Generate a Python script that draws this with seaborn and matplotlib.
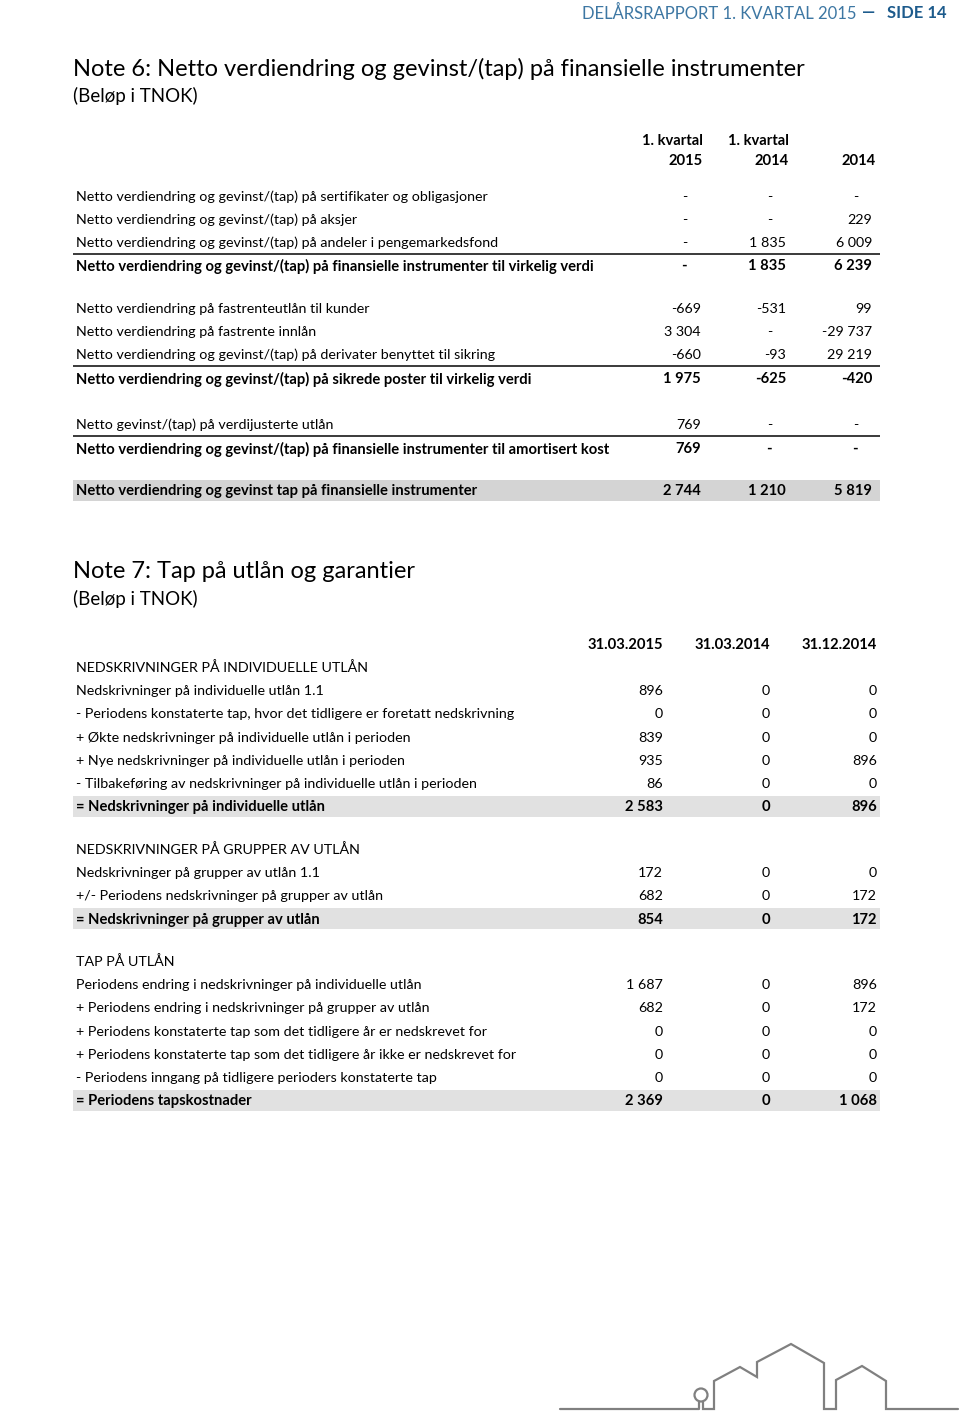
import matplotlib
matplotlib.use("Agg")
import matplotlib.pyplot as plt
import seaborn as sns
from matplotlib.patches import Rectangle, Circle

# data - note 6
n6_cols_top = ["1. kvartal", "1. kvartal", ""]
n6_cols_bottom = ["2015", "2014", "2014"]
n6_labels = [
    "Netto verdiendring og gevinst/(tap) på sertifikater og obligasjoner",
    "Netto verdiendring og gevinst/(tap) på aksjer",
    "Netto verdiendring og gevinst/(tap) på andeler i pengemarkedsfond",
    "Netto verdiendring og gevinst/(tap) på finansielle instrumenter til virkelig verdi",
    "Netto verdiendring på fastrenteutlån til kunder",
    "Netto verdiendring på fastrente innlån",
    "Netto verdiendring og gevinst/(tap) på derivater benyttet til sikring",
    "Netto verdiendring og gevinst/(tap) på sikrede poster til virkelig verdi",
    "Netto gevinst/(tap) på verdijusterte utlån",
    "Netto verdiendring og gevinst/(tap) på finansielle instrumenter til amortisert kost",
    "Netto verdiendring og gevinst tap på finansielle instrumenter",
]
n6_q1_2015 = [None, None, None, None, -669, 3304, -660, 1975, 769, 769, 2744]
n6_q1_2014 = [None, None, 1835, 1835, -531, None, -93, -625, None, None, 1210]
n6_y2014 = [None, 229, 6009, 6239, 99, -29737, 29219, -420, None, None, 5819]
n6_bold = [False, False, False, True, False, False, False, True, False, True, True]

# data - note 7
n7_cols = ["31.03.2015", "31.03.2014", "31.12.2014"]
n7_sections = [
    "NEDSKRIVNINGER PÅ INDIVIDUELLE UTLÅN",
    "NEDSKRIVNINGER PÅ GRUPPER AV UTLÅN",
    "TAP PÅ UTLÅN",
]
n7_labels = [
    ["Nedskrivninger på individuelle utlån 1.1",
     "- Periodens konstaterte tap, hvor det tidligere er foretatt nedskrivning",
     "+ Økte nedskrivninger på individuelle utlån i perioden",
     "+ Nye nedskrivninger på individuelle utlån i perioden",
     "- Tilbakeføring av nedskrivninger på individuelle utlån i perioden",
     "= Nedskrivninger på individuelle utlån"],
    ["Nedskrivninger på grupper av utlån 1.1",
     "+/- Periodens nedskrivninger på grupper av utlån",
     "= Nedskrivninger på grupper av utlån"],
    ["Periodens endring i nedskrivninger på individuelle utlån",
     "+ Periodens endring i nedskrivninger på grupper av utlån",
     "+ Periodens konstaterte tap som det tidligere år er nedskrevet for",
     "+ Periodens konstaterte tap som det tidligere år ikke er nedskrevet for",
     "- Periodens inngang på tidligere perioders konstaterte tap",
     "= Periodens tapskostnader"],
]
n7_2015 = [[896, 0, 839, 935, 86, 2583], [172, 682, 854], [1687, 682, 0, 0, 0, 2369]]
n7_2014q = [[0, 0, 0, 0, 0, 0], [0, 0, 0], [0, 0, 0, 0, 0, 0]]
n7_2014y = [[0, 0, 0, 896, 0, 896], [0, 172, 172], [896, 172, 0, 0, 0, 1068]]


def fmt(v):
    if v is None:
        return "-"
    s = f"{abs(v):,}".replace(",", " ")
    return ("-" if v < 0 else "") + s


sns.set_theme(style="white")
plt.rcParams["font.family"] = ["Lato", "DejaVu Sans"]
plt.rcParams["text.color"] = "black"

fig = plt.figure(figsize=(9.6, 14.15), dpi=100)
ax = fig.add_axes([0, 0, 1, 1])
ax.set_xlim(0, 960)
ax.set_ylim(1415, 0)
ax.axis("off")

FS = 10.3      # regular rows
FSB = 10.6     # bold rows
ROW = 23.2
LEFT = 76
DY = 1         # small baseline nudge


def size(w):
    return FSB if w == "bold" else FS


# page header
ax.text(857, 13, "DELÅRSRAPPORT 1. KVARTAL 2015", ha="right", va="center",
        fontsize=12, color="#3d77a3")
ax.text(862, 12, "—", ha="left", va="center", fontsize=12, color="#1d5b8c",
        fontweight="bold")
ax.text(947, 13, "SIDE 14", ha="right", va="center", fontsize=12, color="#1d5b8c",
        fontweight="bold")

# ---- Note 6 ----
ax.text(73, 69, "Note 6: Netto verdiendring og gevinst/(tap) på finansielle instrumenter",
        ha="left", va="center", fontsize=17)
ax.text(73, 96, "(Beløp i TNOK)", ha="left", va="center", fontsize=13.5)

c6 = [703, 789, 876]
for x, t, b in zip(c6, n6_cols_top, n6_cols_bottom):
    ax.text(x, 140 + DY, t, ha="right", va="center", fontsize=FSB, fontweight="bold")
    ax.text(x, 160 + DY, b, ha="right", va="center", fontsize=FSB, fontweight="bold")

n6_y = [196, 219, 242, 265, 308, 331, 354, 378, 424, 448, 490]
rules6 = [253.5, 365.5, 435.5]
for r in rules6:
    ax.plot([73, 880], [r, r], color="#3a3a3a", lw=1.4, solid_capstyle="butt")
ax.add_patch(Rectangle((73, 479.5), 807, 21, color="#d4d4d4", lw=0, zorder=0))

vals6 = [n6_q1_2015, n6_q1_2014, n6_y2014]
nr6 = [701, 786, 872]
for i, (lab, y, bold) in enumerate(zip(n6_labels, n6_y, n6_bold)):
    w = "bold" if bold else "normal"
    ax.text(LEFT, y + DY, lab, ha="left", va="center", fontsize=size(w), fontweight=w)
    for col, xr in zip(vals6, nr6):
        v = col[i]
        xx = xr - 14 if v is None else xr
        ax.text(xx, y + DY, fmt(v), ha="right", va="center", fontsize=size(w), fontweight=w)

# ---- Note 7 ----
ax.text(73, 572, "Note 7: Tap på utlån og garantier", ha="left", va="center", fontsize=17)
ax.text(73, 599, "(Beløp i TNOK)", ha="left", va="center", fontsize=13.5)

nr7 = [663, 770, 877]
for x, t in zip(nr7, n7_cols):
    ax.text(x, 644 + DY, t, ha="right", va="center", fontsize=FSB, fontweight="bold")

sec_y = [667, 849, 961]
for sec, sy, labs, a, b, c in zip(n7_sections, sec_y, n7_labels, n7_2015, n7_2014q, n7_2014y):
    ax.text(LEFT, sy + DY, sec, ha="left", va="center", fontsize=FS)
    for j, lab in enumerate(labs):
        y = sy + ROW * (j + 1)
        last = j == len(labs) - 1
        w = "bold" if last else "normal"
        if last:
            ax.add_patch(Rectangle((73, y - 10.5), 807, 21, color="#e1e1e1", lw=0, zorder=0))
        ax.text(LEFT, y + DY, lab, ha="left", va="center", fontsize=size(w), fontweight=w)
        for col, xr in zip([a, b, c], nr7):
            ax.text(xr, y + DY, fmt(col[j]), ha="right", va="center",
                    fontsize=size(w), fontweight=w)

# house line drawing at the bottom
gc = "#808080"
ax.plot([560, 699, 699], [1409, 1409, 1402], color=gc, lw=1.6)
ax.add_patch(Circle((701, 1395), 6.5, fill=False, ec=gc, lw=1.6))
hx = [703, 703, 714, 714, 740, 757, 757, 791, 824, 824, 836, 836, 862, 886, 886, 958]
hy = [1402, 1409, 1409, 1381, 1367, 1377, 1362, 1344, 1363, 1409, 1409, 1380, 1366, 1381, 1409, 1409]
ax.plot(hx, hy, color=gc, lw=1.6, solid_joinstyle="miter")

fig.savefig("out.png", dpi=100)
